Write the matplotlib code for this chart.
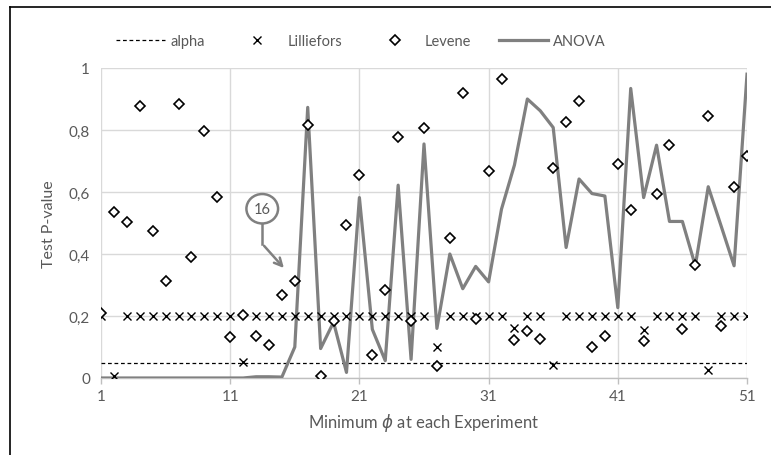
import matplotlib
matplotlib.use('Agg')
import matplotlib.pyplot as plt
from matplotlib.lines import Line2D
from matplotlib.patches import Ellipse
from matplotlib.ticker import FuncFormatter

plt.rcParams['font.family'] = ['Lato', 'DejaVu Sans']

# experiment index (minimum phi)
phi = list(range(1, 52))

alpha = 0.05

lilliefors = [0.2, 0.007, 0.2, 0.2, 0.2, 0.2, 0.2, 0.2, 0.2, 0.2,
              0.2, 0.053, 0.2, 0.2, 0.2, 0.2, 0.2, 0.2, 0.2, 0.2,
              0.2, 0.2, 0.2, 0.2, 0.2, 0.2, 0.101, 0.2, 0.2, 0.2,
              0.2, 0.2, 0.161, 0.2, 0.2, 0.042, 0.2, 0.2, 0.2, 0.2,
              0.2, 0.2, 0.156, 0.2, 0.2, 0.2, 0.2, 0.026, 0.2, 0.2,
              0.2]

levene = [0.21, 0.535, 0.502, 0.878, 0.473, 0.314, 0.884, 0.389, 0.798, 0.585,
          0.131, 0.203, 0.137, 0.106, 0.269, 0.314, 0.817, 0.007, 0.185, 0.495,
          0.656, 0.073, 0.285, 0.778, 0.185, 0.806, 0.04, 0.451, 0.919, 0.19,
          0.668, 0.964, 0.124, 0.153, 0.126, 0.677, 0.825, 0.894, 0.099, 0.137,
          0.69, 0.542, 0.12, 0.593, 0.752, 0.158, 0.365, 0.844, 0.167, 0.617,
          0.717]

anova = [0, 0, 0, 0, 0, 0, 0, 0, 0, 0,
         0, 0, 0.004, 0.004, 0.003, 0.1, 0.873, 0.095, 0.18, 0.018,
         0.582, 0.157, 0.056, 0.622, 0.06, 0.755, 0.16, 0.40, 0.288, 0.36,
         0.31, 0.545, 0.687, 0.9, 0.862, 0.808, 0.421, 0.642, 0.595, 0.587,
         0.227, 0.934, 0.582, 0.751, 0.505, 0.505, 0.362, 0.617, 0.49, 0.362,
         0.98]

x_ticks = [1, 11, 21, 31, 41, 51]
y_ticks = [0, 0.2, 0.4, 0.6, 0.8, 1]

txt = '#595959'
grid = '#d9d9d9'
line_gray = '#808080'

fig = plt.figure(figsize=(7.71, 4.56), dpi=100)
ax = fig.add_axes([101 / 771, 1 - 379 / 456, 646 / 771, 310 / 456])

ax.plot([phi[0], phi[-1]], [alpha, alpha], color='black', lw=0.9,
        dashes=(3, 2.2), label='alpha', zorder=3)
ax.plot(phi, lilliefors, ls='none', marker='x', ms=5.5, mew=1.0,
        color='black', label='Lilliefors', zorder=4)
ax.plot(phi, levene, ls='none', marker='D', ms=4.8, mew=1.2,
        mfc='white', mec='black', label='Levene', zorder=5)
ax.plot(phi, anova, color=line_gray, lw=2.3, label='ANOVA', zorder=3)

ax.set_xlim(1, 51)
ax.set_ylim(0, 1)
ax.set_xticks(x_ticks)
ax.set_yticks(y_ticks)
ax.yaxis.set_major_formatter(FuncFormatter(
    lambda v, p: ('%g' % v).replace('.', ',')))
ax.grid(True, color=grid, lw=1.0, zorder=0)
ax.set_axisbelow(True)
for s in ['top', 'right', 'left']:
    ax.spines[s].set_visible(False)
ax.spines['bottom'].set_color('#bfbfbf')
ax.spines['bottom'].set_linewidth(1.0)
ax.tick_params(axis='x', colors='#bfbfbf', length=4, width=1,
               labelcolor=txt, labelsize=11, pad=4)
ax.tick_params(axis='y', length=0, labelcolor=txt, labelsize=11, pad=8)

ax.set_xlabel(r'Minimum $\phi$ at each Experiment', color=txt, fontsize=12,
              labelpad=6)
ax.set_ylabel('Test P-value', color=txt, fontsize=11.5, labelpad=9)

# callout "16"
ax.add_patch(Ellipse((13.48, 0.546), 2.45, 0.095, fill=False,
                     ec=line_gray, lw=1.8, zorder=6))
ax.text(13.48, 0.546, '16', color=txt, fontsize=10.5, ha='center',
        va='center', zorder=7)
ax.plot([13.48, 13.48], [0.498, 0.431], color=line_gray, lw=1.8, zorder=6)
ax.annotate('', xy=(15.3, 0.348), xytext=(13.48, 0.433),
            arrowprops=dict(arrowstyle='->', color=line_gray, lw=1.8,
                            mutation_scale=14), zorder=6)

fig.legend(loc='center', bbox_to_anchor=(0.468, 0.908), ncol=4,
           frameon=False, fontsize=10.5, labelcolor=txt, handlelength=3.4,
           handletextpad=0.35, columnspacing=1.9)

# outer frame (left and top edges visible)
fig.add_artist(Line2D([9.5 / 771, 9.5 / 771], [0, 1 - 7.5 / 456],
                      color='black', lw=1.2, transform=fig.transFigure))
fig.add_artist(Line2D([9.5 / 771, 1], [1 - 7.5 / 456, 1 - 7.5 / 456],
                      color='black', lw=1.2, transform=fig.transFigure))

fig.savefig('out.png', dpi=100)
